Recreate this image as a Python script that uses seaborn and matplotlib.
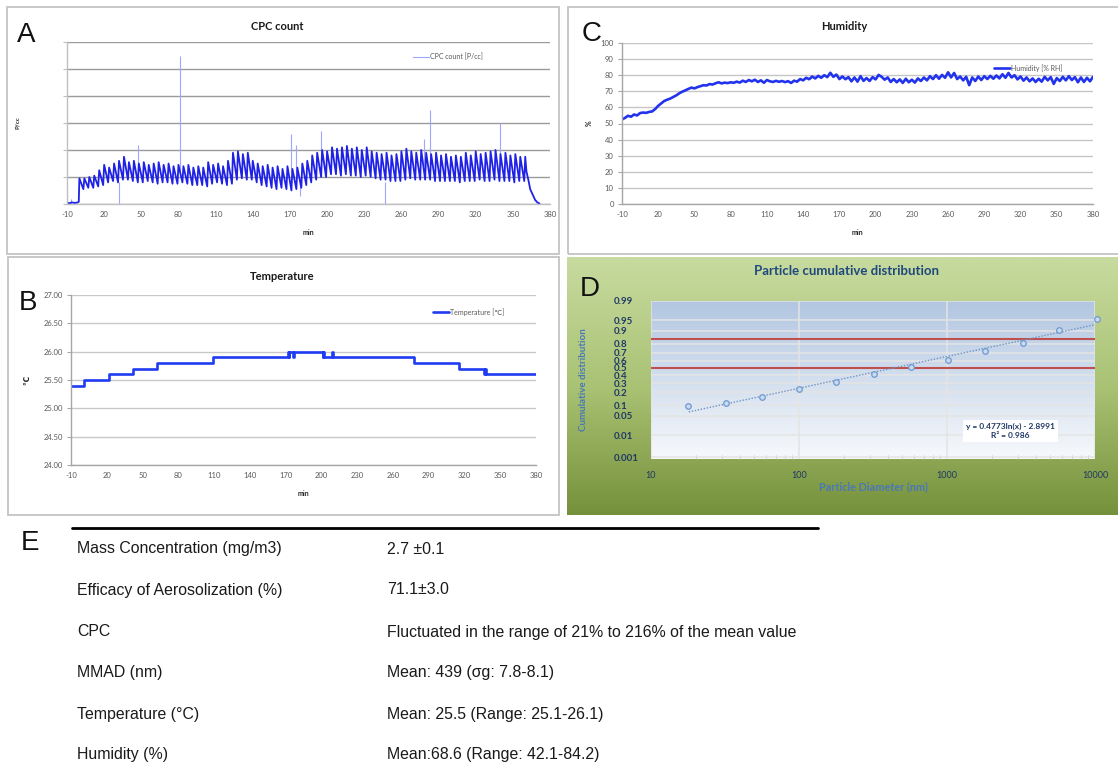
import math
import numpy as np
import matplotlib
matplotlib.use("Agg")
import matplotlib.pyplot as plt
from matplotlib.patches import Rectangle
from matplotlib.lines import Line2D
from matplotlib.colors import LinearSegmentedColormap
import seaborn as sns

# ================================================================
# DATA
# ================================================================
x_ticks = [-10, 20, 50, 80, 110, 140, 170, 200, 230, 260, 290, 320, 350, 380]

# --- A: CPC count (arbitrary units, one grid step = 1) ---
cpc_start_t = [-10, -8, -6, -4, -2, -0.5]
cpc_start_v = [0.05, 0.03, 0.06, 0.04, 0.05, 0.08]
cpc_period = 4          # one sawtooth every ~4 min, first one at t = 0
cpc_peaks = [0.95, 0.95, 1.0, 1.05, 1.25, 1.45, 1.35, 1.5, 1.6, 1.75,
             1.55, 1.6, 1.5, 1.55, 1.45, 1.5, 1.55, 1.45, 1.5, 1.4,
             1.45, 1.4, 1.45, 1.35, 1.4, 1.35, 1.55, 1.45, 1.5, 1.4,
             1.6, 1.9, 1.95, 1.85, 1.9, 1.6, 1.5, 1.4, 1.45, 1.35,
             1.4, 1.3, 1.4, 1.3, 1.35, 1.5, 1.6, 1.8, 1.9, 2.0,
             1.95, 2.1, 2.05, 2.1, 2.15, 2.05, 2.1, 2.0, 2.1, 1.95,
             1.9, 1.85, 1.9, 1.8, 1.85, 1.95, 2.05, 1.95, 1.9, 2.0,
             1.9, 1.85, 1.9, 1.8, 1.85, 1.75, 1.8, 1.75, 1.9, 1.8,
             1.95, 1.85, 1.9, 1.95, 2.0, 1.85, 1.9, 1.8, 1.85, 1.75]
cpc_troughs = [0.55, 0.6, 0.6, 0.65, 0.7, 0.8, 0.85, 0.8, 0.9, 0.9,
               0.85, 0.8, 0.8, 0.85, 0.8, 0.75, 0.8, 0.8, 0.75, 0.75,
               0.8, 0.75, 0.7, 0.7, 0.7, 0.65, 0.75, 0.8, 0.75, 0.7,
               0.75, 0.9, 0.95, 0.9, 0.9, 0.8, 0.7, 0.65, 0.6, 0.55,
               0.6, 0.55, 0.5, 0.55, 0.6, 0.7, 0.8, 0.9, 1.0, 1.0,
               1.1, 1.1, 1.05, 1.1, 1.05, 1.05, 1.0, 1.05, 1.0, 0.95,
               0.9, 0.9, 0.85, 0.85, 0.85, 0.9, 0.95, 0.9, 0.9, 0.9,
               0.9, 0.85, 0.85, 0.85, 0.85, 0.85, 0.8, 0.85, 0.85, 0.85,
               0.9, 0.85, 0.85, 0.9, 0.85, 0.85, 0.85, 0.8, 0.85, 0.85]
cpc_end_t = [360, 361, 362.5, 364, 366, 368, 370, 371.5]
cpc_end_v = [1.75, 1.2, 0.9, 0.55, 0.35, 0.15, 0.05, 0.02]
cpc_spike_t = [-10, -7, 32, 47, 81, 171, 175, 178, 195, 247, 278, 283, 340]
cpc_spike_lo = [0.0, 0.0, 0.0, 1.2, 1.2, 1.2, 1.2, 0.3, 1.4, 0.0, 1.4, 1.5, 1.5]
cpc_spike_hi = [0.5, 0.2, 0.8, 2.2, 5.5, 2.6, 2.2, 0.8, 2.7, 0.8, 2.4, 3.5, 3.0]

# --- C: Humidity (% RH), one reading every 2.5 min from -10 min ---
hum_t0, hum_step = -10, 2.5
hum_vals = [52.5, 53.5, 54.8, 54.2, 55.6, 55.0, 56.5, 56.8, 56.6, 57.2,
            57.5, 59.0, 61.0, 62.5, 64.0, 64.8, 65.5, 66.5, 67.5, 68.8,
            69.8, 70.6, 71.5, 72.3, 71.8, 72.6, 73.2, 73.8, 73.6, 74.5,
            74.2, 75.0, 75.6, 74.9, 75.4, 75.1, 75.6, 75.3, 76.0, 75.4,
            76.6, 75.8, 77.0, 76.2, 77.2, 75.8, 76.8, 75.3, 77.0, 76.2,
            75.8, 76.5, 75.9, 76.4, 75.7, 76.3, 75.2, 76.6, 76.0, 77.6,
            76.8, 78.4, 77.5, 79.2, 78.0, 79.6, 78.4, 80.0, 78.8, 81.5,
            79.0, 80.4, 77.6, 79.2, 77.5, 78.8, 76.2, 78.6, 76.0, 79.4,
            76.5, 78.2, 76.4, 78.8, 77.4, 80.2, 79.0, 77.2, 78.6, 75.8,
            77.6, 75.6, 77.4, 75.2, 77.8, 75.6, 77.2, 75.4, 78.0, 76.4,
            78.6, 76.8, 79.4, 77.6, 80.0, 77.8, 80.2, 78.4, 81.8, 78.6,
            81.4, 77.6, 79.2, 76.8, 79.0, 73.8, 78.6, 76.4, 79.2, 77.0,
            79.4, 77.6, 79.6, 77.8, 79.8, 78.0, 80.6, 78.4, 81.4, 78.6,
            80.0, 77.4, 79.2, 76.6, 78.6, 76.2, 78.0, 75.8, 77.8, 76.0,
            79.0, 76.8, 78.8, 74.6, 78.2, 76.4, 79.0, 76.8, 79.4, 77.0,
            78.8, 75.6, 78.6, 75.8, 78.4, 76.2, 79.0]

# --- B: Temperature (deg C), step changes ---
temp_t = [-10, 1, 22, 42, 62, 109, 172, 172.6, 173.2, 176.5, 177.2,
          201, 201.5, 202, 209, 209.6, 277.5, 315.5, 336.5, 337.2, 337.8, 380]
temp_v = [25.4, 25.5, 25.6, 25.7, 25.8, 25.9, 26.0, 25.9, 26.0, 25.9, 26.0,
          25.9, 26.0, 25.9, 26.0, 25.9, 25.8, 25.7, 25.6, 25.7, 25.6, 25.6]

# --- D: particle cumulative distribution ---
pd_diam = [17.9, 31.9, 56, 100, 179, 322, 569, 1016, 1816, 3243, 5730, 10240]
pd_cum = [0.094, 0.115, 0.156, 0.233, 0.315, 0.416, 0.509, 0.615, 0.724,
          0.81, 0.906, 0.956]
fit_slope, fit_icpt = 0.4773, -2.8991
ref_levels = [0.5, 0.8413]
prob_ticks = [0.001, 0.01, 0.05, 0.1, 0.2, 0.3, 0.4, 0.5, 0.6, 0.7, 0.8,
              0.9, 0.95, 0.99]

# --- E: summary table ---
tbl_names = ["Mass Concentration (mg/m3)", "Efficacy of Aerosolization (%)",
             "CPC", "MMAD (nm)", "Temperature (\u00b0C)", "Humidity (%)"]
tbl_values = ["2.7 \u00b10.1", "71.1\u00b13.0",
              "Fluctuated in the range of 21% to 216% of the mean value",
              "Mean: 439 (\u03c3g: 7.8-8.1)", "Mean: 25.5 (Range: 25.1-26.1)",
              "Mean:68.6 (Range: 42.1-84.2)"]

# ================================================================
# SETUP
# ================================================================
W, H = 1118, 769
sns.set_theme(style="white")
plt.rcParams["font.family"] = ["Lato", "DejaVu Sans"]
plt.rcParams["axes.unicode_minus"] = False
LETTER_FONT = ["Liberation Sans", "DejaVu Sans"]
TABLE_FONT = ["Liberation Sans", "DejaVu Sans"]

fig = plt.figure(figsize=(W / 100, H / 100), dpi=100)


def px_axes(left, top, right, bottom, **kw):
    return fig.add_axes([left / W, 1 - bottom / H, (right - left) / W,
                         (bottom - top) / H], **kw)


def px_text(x, y, s, **kw):
    kw.setdefault("ha", "center")
    kw.setdefault("va", "center")
    return fig.text(x / W, 1 - y / H, s, **kw)


def panel_box(left, top, right, bottom):
    fig.add_artist(Rectangle((left / W, 1 - bottom / H), (right - left) / W,
                             (bottom - top) / H, transform=fig.transFigure,
                             fill=False, edgecolor="#c4c4c4", lw=1.3))


def style_series_axes(ax, grid_color, spine_color):
    ax.set_xlim(-10, 380)
    ax.set_xticks(x_ticks)
    ax.tick_params(axis="x", length=0, labelsize=5.5, labelcolor="#595959", pad=5)
    ax.tick_params(axis="y", left=True, length=3, width=0.8, color=spine_color,
                   labelsize=5.5, labelcolor="#595959", direction="out", pad=3)
    ax.grid(axis="y", color=grid_color, lw=1.0)
    ax.grid(axis="x", visible=False)
    for s in ["top", "right"]:
        ax.spines[s].set_visible(False)
    for s in ["left", "bottom"]:
        ax.spines[s].set_color(spine_color)
        ax.spines[s].set_linewidth(1.0)
    ax.set_xlabel("min", fontsize=5, fontweight="bold", labelpad=8)


def small_legend(ax, anchor, loc="center left"):
    leg = ax.legend(loc=loc, bbox_to_anchor=anchor, frameon=False,
                    fontsize=5, handlelength=2.3, handletextpad=0.2,
                    borderaxespad=0, borderpad=0)
    for t in leg.get_texts():
        t.set_color("#595959")


# ================================================================
# A: CPC COUNT
# ================================================================
panel_box(7, 7, 559, 254)
axA = px_axes(67, 42, 550, 204)

tooth_t = np.arange(len(cpc_peaks)) * cpc_period
cpc_t = list(cpc_start_t)
cpc_v = list(cpc_start_v)
for t, pk, tr in zip(tooth_t, cpc_peaks, cpc_troughs):
    cpc_t += [t, t + 3.2]
    cpc_v += [pk, tr]
cpc_t += cpc_end_t
cpc_v += cpc_end_v

axA.vlines(cpc_spike_t, cpc_spike_lo, cpc_spike_hi, color="#a0a6ff", lw=0.8)
sns.lineplot(x=cpc_t, y=cpc_v, ax=axA, estimator=None, sort=False,
             color="#1f22e6", lw=1.3, label="CPC count [P/cc]")
axA.set_ylim(0, 6)
axA.set_yticks(range(7))
axA.set_yticklabels([])
style_series_axes(axA, "#9a9a9a", "#c0c0c0")
axA.set_ylabel("P/cc", fontsize=4.5, fontweight="bold")
axA.yaxis.set_label_coords(-0.097, 0.5)
small_legend(axA, (0.716, 0.91))
for line in axA.get_legend().get_lines():
    line.set_color("#a0a6ff")
    line.set_linewidth(0.8)
px_text(277, 27, "CPC count", fontsize=8, fontweight="bold", color="#1a1a1a")
px_text(26, 35, "A", fontsize=20, family=LETTER_FONT, color="#111111")

# ================================================================
# C: HUMIDITY
# ================================================================
panel_box(568, 7, 1125, 254)
axC = px_axes(622, 43, 1093, 204)
hum_t = hum_t0 + hum_step * np.arange(len(hum_vals))
sns.lineplot(x=hum_t, y=hum_vals, ax=axC, estimator=None, sort=False,
             color="#2233ee", lw=1.9, label="Humidity [% RH]")
axC.set_ylim(0, 100)
axC.set_yticks(range(0, 101, 10))
style_series_axes(axC, "#c6c6c6", "#a6a6a6")
axC.set_ylabel("%", fontsize=5, fontweight="bold")
axC.yaxis.set_label_coords(-0.062, 0.5)
small_legend(axC, (0.79, 0.845))
px_text(844, 27, "Humidity", fontsize=8, fontweight="bold", color="#1a1a1a")
px_text(592, 34, "C", fontsize=20, family=LETTER_FONT, color="#111111")

# ================================================================
# B: TEMPERATURE
# ================================================================
panel_box(8, 257, 559, 515)
axB = px_axes(71, 295, 536, 465)
sns.lineplot(x=temp_t, y=temp_v, ax=axB, estimator=None, sort=False,
             drawstyle="steps-post", color="#1f3cf2", lw=1.9,
             label="Temperature [\u2103]")
axB.set_ylim(24, 27)
axB.set_yticks(np.arange(24, 27.01, 0.5))
axB.set_yticklabels([f"{v:.2f}" for v in np.arange(24, 27.01, 0.5)])
style_series_axes(axB, "#c8c8c8", "#a6a6a6")
axB.set_ylabel("\u2103", fontsize=5.5, fontweight="bold")
axB.yaxis.set_label_coords(-0.088, 0.5)
small_legend(axB, (0.778, 0.9))
px_text(282, 277, "Temperature", fontsize=8, fontweight="bold", color="#1a1a1a")
px_text(28, 303, "B", fontsize=20, family=LETTER_FONT, color="#111111")

# ================================================================
# D: PARTICLE CUMULATIVE DISTRIBUTION (probability scale)
# ================================================================
_erf = np.vectorize(math.erf)
_zgrid = np.linspace(-6, 6, 4001)
_pgrid = 0.5 * (1 + _erf(_zgrid / math.sqrt(2)))


def prob_fwd(p):
    return np.interp(p, _pgrid, _zgrid)


def prob_inv(z):
    return np.interp(z, _zgrid, _pgrid)


boxD = px_axes(567, 257, 1118, 515)
green = LinearSegmentedColormap.from_list("g", ["#c8dba0", "#a9c274", "#76913b"])
boxD.imshow(np.linspace(0, 1, 256)[:, None], aspect="auto", cmap=green,
            extent=[0, 1, 0, 1])
boxD.set_axis_off()

bgD = px_axes(651, 300.7, 1095, 459)
blue = LinearSegmentedColormap.from_list("b", ["#b2c6e1", "#d3dfee", "#f7f9fc"])
bgD.imshow(np.linspace(0, 1, 256)[:, None], aspect="auto", cmap=blue,
           extent=[0, 1, 0, 1])
bgD.set_axis_off()

axD = px_axes(651, 300.7, 1095, 459)
axD.set_facecolor("none")
axD.set_xscale("log")
axD.set_yscale("function", functions=(prob_fwd, prob_inv))

fit_x = np.geomspace(18, 10000, 100)
fit_p = prob_inv(fit_slope * np.log(fit_x) + fit_icpt)
for lvl in ref_levels:
    axD.axhline(lvl, color="#c0504d", lw=1.5, zorder=2)
sns.lineplot(x=fit_x, y=fit_p, ax=axD, estimator=None, sort=False,
             color="#6d94c9", lw=1.0, linestyle=(0, (1, 1.2)), zorder=3)
sns.scatterplot(x=pd_diam, y=pd_cum, ax=axD, s=16, facecolor="#c9dbf1",
                edgecolor="#6f98cf", linewidth=0.9, clip_on=False, zorder=4)

axD.set_xlim(10, 10000)
axD.set_ylim(0.00082, 0.99)
axD.set_yticks(prob_ticks)
axD.set_yticklabels([f"{p:g}" for p in prob_ticks])
axD.yaxis.set_minor_locator(matplotlib.ticker.NullLocator())
axD.set_xticks([10, 100, 1000, 10000])
axD.set_xticklabels(["10", "100", "1000", "10000"])
axD.tick_params(axis="y", length=0, labelsize=7, labelcolor="#1f3864", pad=27)
for t in axD.get_yticklabels():
    t.set_fontweight("bold")
    t.set_horizontalalignment("left")
axD.tick_params(axis="x", which="major", length=0, labelsize=6.5,
                labelcolor="#1f3864", pad=9)
axD.tick_params(axis="x", which="minor", bottom=True, length=3, width=0.7,
                color="#c8c8c8", direction="in")
axD.grid(axis="y", color="#e4e4e4", lw=1.1)
axD.grid(axis="x", which="major", color="#e4e4e4", lw=1.1)
for s in axD.spines.values():
    s.set_visible(False)
axD.set_xlabel("Particle Diameter (nm)", fontsize=7.8, fontweight="bold",
               color="#4a78b5")
axD.xaxis.set_label_coords(0.5, -0.14)
axD.set_ylabel("Cumulative distribution", fontsize=7, fontweight="bold",
               color="#4a78b5")
axD.yaxis.set_label_coords(-0.142, 0.5)
axD.text(0.809, 0.177, "y = 0.4773ln(x) - 2.8991\nR\u00b2 = 0.986",
         transform=axD.transAxes, ha="center", va="center", fontsize=6,
         fontweight="bold", color="#1f3864", linespacing=1.3, zorder=5,
         bbox=dict(boxstyle="square,pad=0.35", fc="white", ec="none"))
px_text(846, 271, "Particle cumulative distribution", fontsize=9.5,
        fontweight="bold", color="#1f497d")
px_text(590, 289, "D", fontsize=20, family=LETTER_FONT, color="#111111")

# ================================================================
# E: SUMMARY TABLE
# ================================================================
fig.add_artist(Line2D([72 / W, 818 / W], [1 - 528 / H, 1 - 528 / H],
                      transform=fig.transFigure, color="black", lw=2))
px_text(30, 543, "E", fontsize=20, family=LETTER_FONT, color="#111111")
row_y = [549, 590, 632, 673, 714, 755]
for y, name, val in zip(row_y, tbl_names, tbl_values):
    px_text(77, y, name, ha="left", fontsize=11.4, family=TABLE_FONT, color="#1a1a1a")
    px_text(387, y, val, ha="left", fontsize=11.4, family=TABLE_FONT, color="#1a1a1a")

fig.savefig("out.png", dpi=100)
